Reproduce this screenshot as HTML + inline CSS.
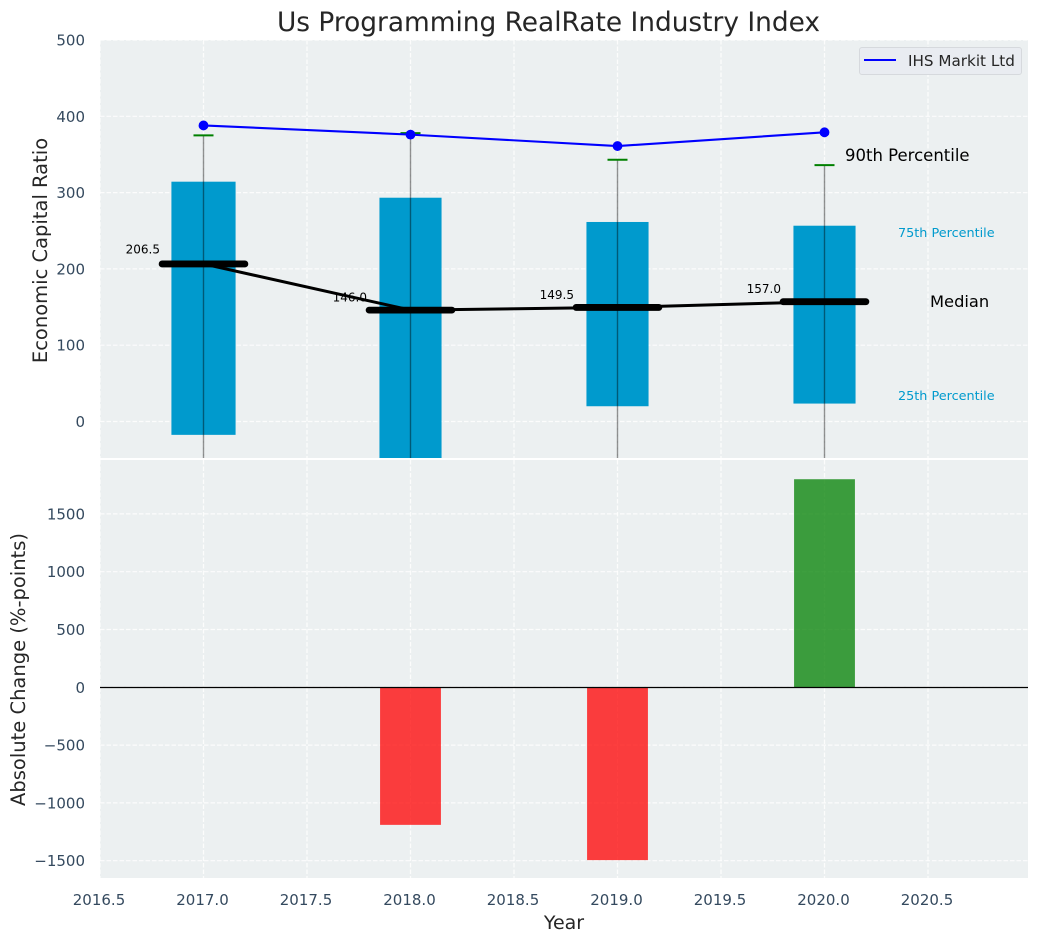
<!DOCTYPE html>
<html lang="en">
<head>
<meta charset="utf-8">
<title>Us Programming RealRate Industry Index</title>
<style>
html,body{margin:0;padding:0;background:#fff;width:1039px;height:942px;overflow:hidden}
svg{display:block;font-family:"DejaVu Sans","Liberation Sans",sans-serif}
</style>
</head>
<body>
<svg id="chart" xmlns="http://www.w3.org/2000/svg" width="1039" height="942" viewBox="0 0 1039 942">
<defs>
<clipPath id="clip-top"><rect x="100" y="40" width="928" height="418"/></clipPath>
<clipPath id="clip-bottom"><rect x="100" y="460" width="928" height="418"/></clipPath>
</defs>
</svg>
<script>
const years = [2017, 2018, 2019, 2020];
const companyValues = [388, 376, 361, 379];
const p90Values = [375, 378, 343, 336];
const p75Values = [314.3, 293.3, 261.5, 256.6];
const medianValues = [206.5, 146.0, 149.5, 157.0];
const p25Values = [-17.5, -60, 20, 23.5];
const p10Values = [-120, -180, -100, -90];
const changeValues = [0, -1190, -1495, 1800];
const xTicks = [2016.5, 2017.0, 2017.5, 2018.0, 2018.5, 2019.0, 2019.5, 2020.0, 2020.5];
const topTicks = [0, 100, 200, 300, 400, 500];
const bottomTicks = [-1500, -1000, -500, 0, 500, 1000, 1500];

const NS = 'http://www.w3.org/2000/svg';
const svg = document.getElementById('chart');
const xScale = v => 100 + (v - 2016.5) * 207;
const yTop = v => 421.5 - v * 0.763;
const yBottom = v => 687.3 - v * 0.1156;
const TICK_COLOR = '#34495e';

function make(tag, attrs, parent, text) {
  const el = document.createElementNS(NS, tag);
  for (const k in attrs) el.setAttribute(k, attrs[k]);
  if (text !== undefined) el.textContent = text;
  (parent || svg).appendChild(el);
  return el;
}
let el;

const topPanel = make('g', {});


const bottomPanel = make('g', {});



el = make('rect', {x: 100, y: 40, width: 928, height: 418, fill: '#ecf0f1'}, topPanel);


el = make('rect', {x: 100, y: 460, width: 928, height: 418, fill: '#ecf0f1'}, bottomPanel);



const gridAttrs = {stroke: '#fff', 'stroke-width': 1.2, 'stroke-dasharray': '4.5 2', opacity: 0.85};
xTicks.forEach(t => {
  const x = xScale(t);
  el = make('line', Object.assign({x1: x, x2: x, y1: 40, y2: 458}, gridAttrs), topPanel);
  
  
  el = make('line', Object.assign({x1: x, x2: x, y1: 460, y2: 878}, gridAttrs), bottomPanel);
  
  
  el = make('text', {x: x - 1, y: 905, 'text-anchor': 'middle', 'font-size': 15, fill: TICK_COLOR}, svg, t.toFixed(1));
  
  
});
topTicks.forEach(t => {
  const y = yTop(t);
  el = make('line', Object.assign({x1: 100, x2: 1028, y1: y, y2: y}, gridAttrs), topPanel);
  
  
  el = make('text', {x: 85, y: y + 5.5, 'text-anchor': 'end', 'font-size': 15, fill: TICK_COLOR}, svg, String(t));
  
  
});
bottomTicks.forEach(t => {
  const y = yBottom(t);
  el = make('line', Object.assign({x1: 100, x2: 1028, y1: y, y2: y}, gridAttrs), bottomPanel);
  
  
  el = make('text', {x: 85, y: y + 5.5, 'text-anchor': 'end', 'font-size': 15, fill: TICK_COLOR}, svg, String(t).replace('-', '\u2212'));
  
  
});

const topMarks = make('g', {'clip-path': 'url(#clip-top)'}, topPanel);


const bottomMarks = make('g', {'clip-path': 'url(#clip-bottom)'}, bottomPanel);



/* interquartile boxes */
years.forEach((yr, i) => {
  const half = i === 0 ? 0.155 : 0.15;
  el = make('rect', {
    x: xScale(yr - half), width: xScale(yr + half) - xScale(yr - half),
    y: yTop(p75Values[i]), height: yTop(p25Values[i]) - yTop(p75Values[i]),
    fill: '#009acd'
  }, topMarks);
  
  
});

/* whiskers and 90th percentile caps */
years.forEach((yr, i) => {
  const x = xScale(yr);
  el = make('line', {x1: x, x2: x, y1: yTop(p90Values[i]), y2: yTop(p10Values[i]), stroke: '#000', 'stroke-width': 1.4, opacity: 0.42}, topMarks);
  
  
  el = make('line', {x1: x - 10, x2: x + 10, y1: yTop(p90Values[i]), y2: yTop(p90Values[i]), stroke: '#008000', 'stroke-width': 2}, topMarks);
  
  
});

/* median connector */
el = make('polyline', {
  points: years.map((yr, i) => xScale(yr) + ',' + yTop(medianValues[i])).join(' '),
  fill: 'none', stroke: '#000', 'stroke-width': 3
}, topMarks);



/* median bars */
years.forEach((yr, i) => {
  const y = yTop(medianValues[i]);
  el = make('line', {x1: xScale(yr - 0.2), x2: xScale(yr + 0.2), y1: y, y2: y, stroke: '#000', 'stroke-width': 6.8, 'stroke-linecap': 'round'}, topMarks);
  
  
  el = make('text', {x: xScale(yr) - 43.5, y: y - (i === 0 ? 10.5 : 8.5), 'text-anchor': 'end', 'font-size': 12, fill: '#000'}, topPanel, medianValues[i].toFixed(1));
  
  
});

/* company line */
el = make('polyline', {
  points: years.map((yr, i) => xScale(yr) + ',' + yTop(companyValues[i])).join(' '),
  fill: 'none', stroke: '#0000ff', 'stroke-width': 2.1
}, topMarks);


years.forEach((yr, i) => {
  el = make('circle', {cx: xScale(yr), cy: yTop(companyValues[i]), r: 4.9, fill: '#0000ff'}, topMarks);
  
  
});

/* annotations */
el = make('text', {x: 845, y: 161, 'font-size': 16.5, fill: '#000'}, topPanel, '90th Percentile');


el = make('text', {x: 898, y: 237, 'font-size': 12.8, fill: '#009acd'}, topPanel, '75th Percentile');


el = make('text', {x: 930, y: 307, 'font-size': 16.3, fill: '#000'}, topPanel, 'Median');


el = make('text', {x: 898, y: 400, 'font-size': 12.8, fill: '#009acd'}, topPanel, '25th Percentile');



/* legend */
const legend = make('g', {}, topPanel);


el = make('rect', {x: 859.5, y: 47.5, width: 162, height: 27, rx: 2.5, fill: '#e9ecf1', stroke: '#d6d9dd', 'stroke-width': 1}, legend);


el = make('line', {x1: 864, x2: 896, y1: 60, y2: 60, stroke: '#0000ff', 'stroke-width': 2}, legend);


el = make('text', {x: 908, y: 66, 'font-size': 15.2, fill: '#262626'}, legend, 'IHS Markit Ltd');



/* change bars */
years.forEach((yr, i) => {
  const v = changeValues[i];
  el = make('rect', {
    x: xScale(yr - 0.147), width: xScale(yr + 0.147) - xScale(yr - 0.147),
    y: Math.min(yBottom(v), yBottom(0)), height: Math.abs(yBottom(v) - yBottom(0)),
    fill: v >= 0 ? '#008000' : '#ff0000', opacity: 0.75
  }, bottomMarks);
  
  
});
el = make('line', {x1: 100, x2: 1028, y1: 687.5, y2: 687.5, stroke: '#000', 'stroke-width': 1.2}, bottomPanel);



/* titles */
el = make('text', {x: 548.5, y: 31, 'text-anchor': 'middle', 'font-size': 26.4, fill: '#262626'}, svg, 'Us Programming RealRate Industry Index');


el = make('text', {x: 564, y: 929, 'text-anchor': 'middle', 'font-size': 19, fill: '#262626'}, svg, 'Year');


el = make('text', {x: 0, y: 0, transform: 'translate(47,250.5) rotate(-90)', 'text-anchor': 'middle', 'font-size': 19.5, fill: '#262626'}, svg, 'Economic Capital Ratio');


el = make('text', {x: 0, y: 0, transform: 'translate(25,669.5) rotate(-90)', 'text-anchor': 'middle', 'font-size': 19.5, fill: '#262626'}, svg, 'Absolute Change (%-points)');


</script>
</body>
</html>
